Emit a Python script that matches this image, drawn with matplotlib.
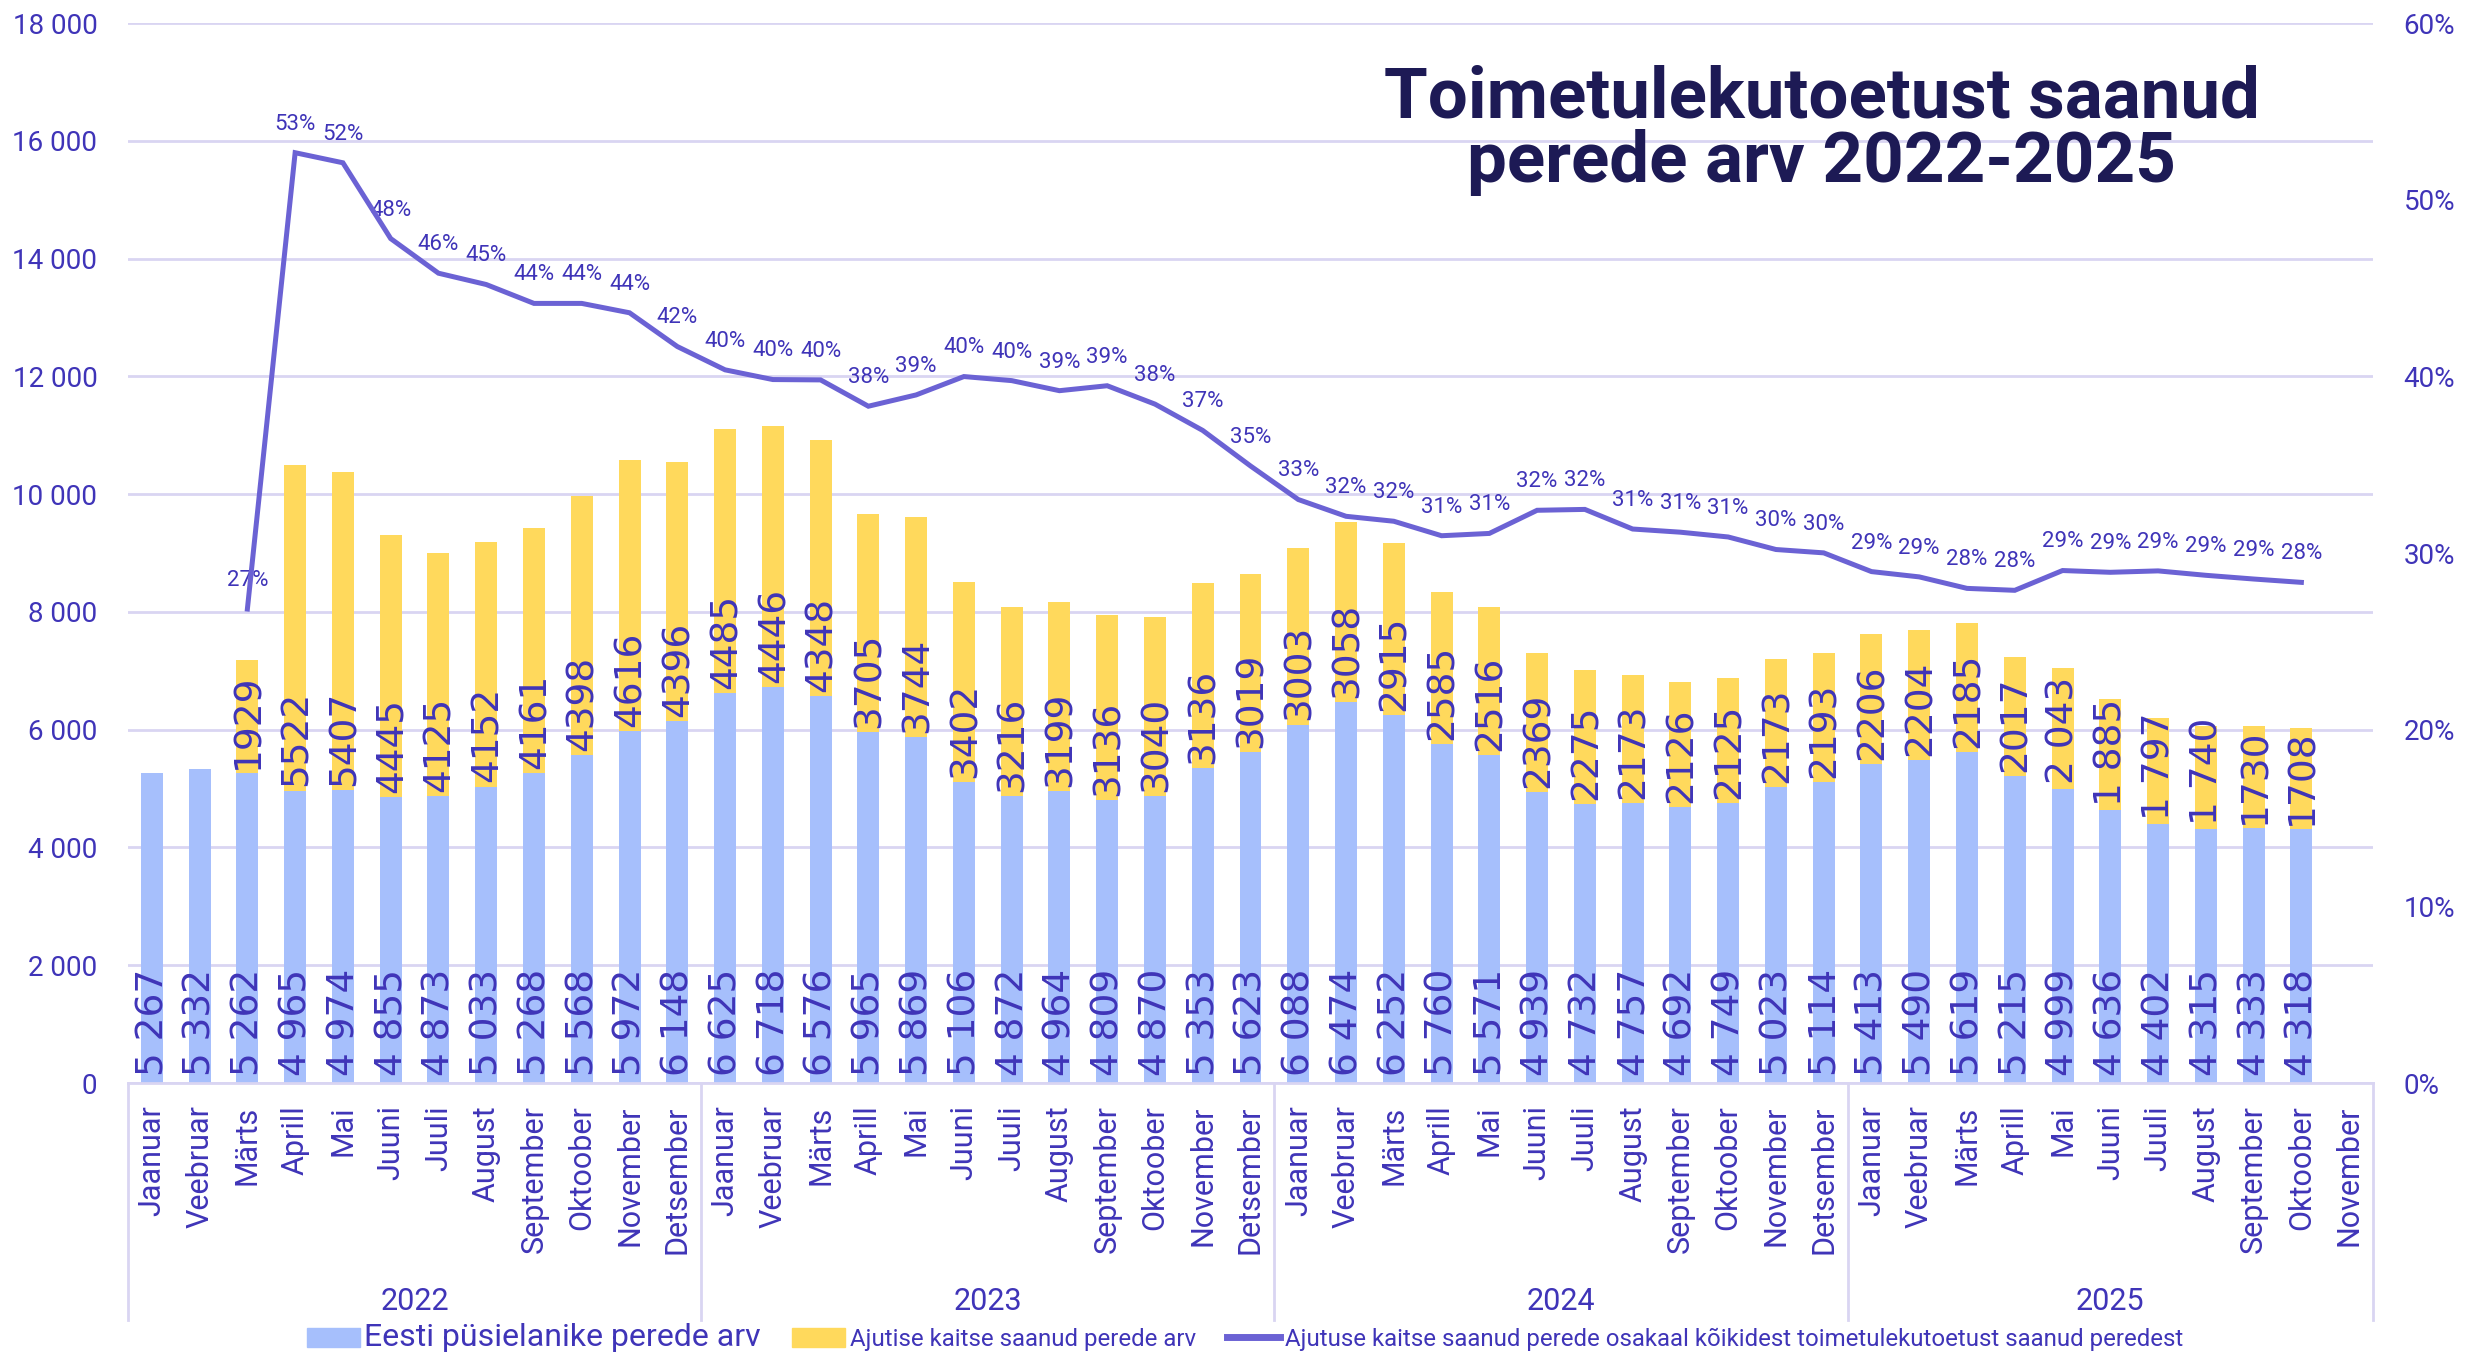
import numpy as np
import matplotlib
matplotlib.use("Agg")
import matplotlib.pyplot as plt
from matplotlib.patches import Patch
from matplotlib.lines import Line2D
import matplotlib.transforms as mtransforms

plt.rcParams['font.family'] = ['Roboto', 'DejaVu Sans']

# --- andmed ---
aastad = ['2022', '2023', '2024', '2025']
kuud = ['Jaanuar', 'Veebruar', 'Märts', 'Aprill', 'Mai', 'Juuni', 'Juuli',
        'August', 'September', 'Oktoober', 'November', 'Detsember']
kuu_sildid = kuud * 3 + kuud[:11]   # 2025 kuni novembrini

pysielanikud = [5267, 5332, 5262, 4965, 4974, 4855, 4873, 5033, 5268, 5568, 5972, 6148,
                6625, 6718, 6576, 5965, 5869, 5106, 4872, 4964, 4809, 4870, 5353, 5623,
                6088, 6474, 6252, 5760, 5571, 4939, 4732, 4757, 4692, 4749, 5023, 5114,
                5413, 5490, 5619, 5215, 4999, 4636, 4402, 4315, 4333, 4318, None]
ajutine = [None, None, 1929, 5522, 5407, 4445, 4125, 4152, 4161, 4398, 4616, 4396,
           4485, 4446, 4348, 3705, 3744, 3402, 3216, 3199, 3136, 3040, 3136, 3019,
           3003, 3058, 2915, 2585, 2516, 2369, 2275, 2173, 2126, 2125, 2173, 2193,
           2206, 2204, 2185, 2017, 2043, 1885, 1797, 1740, 1730, 1708, None]
osakaal = [None, None, 26.83, 52.66, 52.09, 47.80, 45.84, 45.20, 44.13, 44.13, 43.60, 41.69,
           40.37, 39.82, 39.80, 38.31, 38.95, 39.99, 39.76, 39.19, 39.47, 38.43, 36.94, 34.93,
           33.03, 32.08, 31.80, 30.98, 31.11, 32.42, 32.47, 31.36, 31.18, 30.91, 30.20, 30.01,
           28.95, 28.65, 28.00, 27.89, 29.01, 28.91, 28.99, 28.74, 28.53, 28.34, None]
# nende kuude sildid on tuhandete eraldajaga
eraldajaga = [40, 41, 42, 43]

BLUE = '#a6bffc'
YELLOW = '#ffd95c'
LINE = '#6b62d4'
TXT = '#3f34b8'
GRID = '#d9d5f2'
TITLE = '#1d1a55'


def tuhat(v):
    return f"{v:,}".replace(',', ' ')


n = len(kuu_sildid)
x = np.arange(n)
b = np.array([np.nan if v is None else v for v in pysielanikud], dtype=float)
a = np.array([np.nan if v is None else v for v in ajutine], dtype=float)
p = np.array([np.nan if v is None else v for v in osakaal], dtype=float)

fig = plt.figure(figsize=(24.75, 13.55), dpi=100)
ax = fig.add_axes([0.0517, 0.2007, 0.9071, 0.7823])
ax2 = ax.twinx()

bw = 0.46
ax.bar(x, np.nan_to_num(b), width=bw, color=BLUE, zorder=2)
ax.bar(x, np.nan_to_num(a), width=bw, bottom=np.nan_to_num(b), color=YELLOW, zorder=2)

for i in range(n):
    if not np.isnan(b[i]):
        ax.annotate(tuhat(int(b[i])), (x[i], 0), xytext=(1, 5), textcoords='offset points',
                    rotation=90, ha='center', va='bottom', fontsize=27, color=TXT,
                    family='DejaVu Sans', zorder=4)
    if not np.isnan(a[i]):
        s = tuhat(int(a[i])) if i in eraldajaga else str(int(a[i]))
        ax.annotate(s, (x[i], b[i]), xytext=(1, 3), textcoords='offset points',
                    rotation=90, ha='center', va='bottom', fontsize=27, color=TXT,
                    family='DejaVu Sans', zorder=4)

ax.set_xlim(-0.5, n - 0.5)
ax.set_ylim(0, 18000)
ax.set_yticks(np.arange(0, 18001, 2000))
ax.set_yticklabels([tuhat(v) for v in range(0, 18001, 2000)])
ax.grid(axis='y', color=GRID, linewidth=2, zorder=0)
ax.set_axisbelow(True)
for s in ['top', 'right', 'left']:
    ax.spines[s].set_visible(False)
ax.spines['bottom'].set_color(GRID)
ax.spines['bottom'].set_linewidth(2)
ax.tick_params(axis='y', length=0, labelsize=20, labelcolor=TXT, pad=22)
ax.set_xticks(x)
ax.set_xticklabels(kuu_sildid, rotation=90, fontsize=22, color=TXT)
ax.tick_params(axis='x', length=0, pad=16)

# aastate eraldajad ja sildid
trans = mtransforms.blended_transform_factory(ax.transData, ax.transAxes)
for xb in [-0.5, 11.5, 23.5, 35.5, n - 0.5]:
    ax.plot([xb, xb], [0, -0.224], transform=trans, color=GRID, lw=2, clip_on=False)
for k, aasta in enumerate(aastad):
    lo = -0.5 + 12 * k
    hi = min(lo + 12, n - 0.5)
    ax.text((lo + hi) / 2, -0.206, aasta, transform=trans, ha='center', va='center',
            fontsize=22, color=TXT)

# osakaalu joon
ax2.plot(x, p, color=LINE, lw=3.6, zorder=5, solid_joinstyle='miter')
for i in range(n):
    if not np.isnan(p[i]):
        ax2.annotate(f"{round(p[i])}%", (x[i], p[i]), xytext=(0, 13), textcoords='offset points',
                     ha='center', va='bottom', fontsize=16, color=TXT)
ax2.set_ylim(0, 60)
ax2.set_yticks(np.arange(0, 61, 10))
ax2.set_yticklabels([f"{v}%" for v in range(0, 61, 10)])
ax2.tick_params(axis='y', length=0, labelsize=20, labelcolor=TXT, pad=22)
for s in ax2.spines.values():
    s.set_visible(False)

fig.text(0.736, 0.904, "Toimetulekutoetust saanud\nperede arv 2022-2025", ha='center', va='center',
         fontsize=51, fontweight='bold', color=TITLE, linespacing=0.95)

handles = [Patch(color=BLUE), Patch(color=YELLOW), Line2D([], [], color=LINE, lw=5)]
labels = ['Eesti püsielanike perede arv', 'Ajutise kaitse saanud perede arv',
          'Ajutuse kaitse saanud perede osakaal kõikidest toimetulekutoetust saanud peredest']
leg = fig.legend(handles, labels, loc='center', bbox_to_anchor=(0.503, 0.013), ncol=3,
                 frameon=False, fontsize=17.3, handlelength=2.2, handleheight=0.8,
                 handletextpad=0.2, columnspacing=1.3, labelcolor=TXT)
leg.get_texts()[0].set_fontsize(23)

fig.savefig('out.png', dpi=100)
